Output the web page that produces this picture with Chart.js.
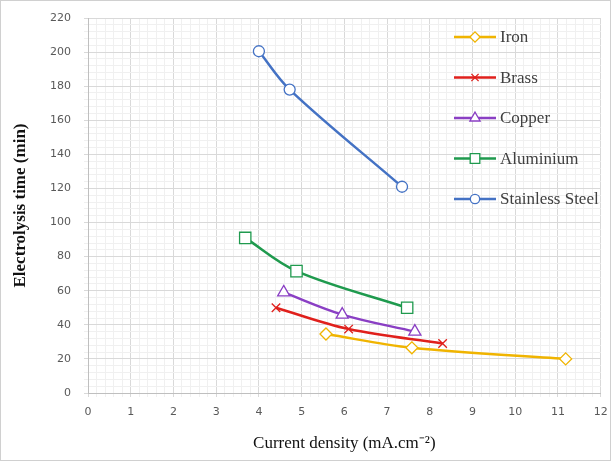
<!DOCTYPE html>
<html>
<head>
<meta charset="utf-8">
<script src="https://cdn.jsdelivr.net/npm/chart.js@4.4.1/dist/chart.umd.min.js"></script>
<style>
  body { margin: 0; background: #fff; }
  #wrap { width: 609px; height: 459px; border: 1px solid #d0d0d0; }
</style>
</head>
<body>
<div id="wrap"><canvas id="chart" width="609" height="459"></canvas></div>
<script>
// series: [current density, electrolysis time]
var ironX = [5.57, 7.58, 11.18];
var ironY = [34.6, 26.5, 20];
var brassX = [4.4, 6.1, 8.3];
var brassY = [50, 37.5, 29];
var copperX = [4.58, 5.95, 7.65];
var copperY = [59, 46, 36];
var aluminiumX = [3.68, 4.88, 7.47];
var aluminiumY = [91, 71.5, 50];
var steelX = [4.0, 4.72, 7.35];
var steelY = [200.5, 178, 121];

var seriesNames = ['Iron', 'Brass', 'Copper', 'Aluminium', 'Stainless Steel'];
var seriesColors = ['#f0b400', '#e0201c', '#8a3fc4', '#1f9a4e', '#4472c4'];
var seriesMarkers = ['rectRot', 'crossRot', 'triangle', 'rect', 'circle'];
var markerSizes = { rectRot: 6, crossRot: 6, triangle: 7, rect: 8, circle: 5.5 };

function toPoints(xs, ys) {
  return xs.map(function(x, i) { return { x: x, y: ys[i] }; });
}

var allX = [ironX, brassX, copperX, aluminiumX, steelX];
var allY = [ironY, brassY, copperY, aluminiumY, steelY];

var datasets = seriesNames.map(function(name, i) {
  return {
    label: name,
    data: toPoints(allX[i], allY[i]),
    borderColor: seriesColors[i],
    backgroundColor: '#ffffff',
    pointBorderColor: seriesColors[i],
    pointBackgroundColor: '#ffffff',
    pointStyle: seriesMarkers[i],
    pointRadius: markerSizes[seriesMarkers[i]],
    pointBorderWidth: 1.3,
    borderWidth: 2.5,
    tension: 0.35,
    fill: false
  };
});

// legend drawn inside the plot area, at the top right
var insideLegend = {
  id: 'insideLegend',
  afterDatasetsDraw: function(chart) {
    var ctx = chart.ctx;
    ctx.save();
    chart.data.datasets.forEach(function(ds, i) {
      var y = 36 + i * 40.5;
      ctx.strokeStyle = ds.borderColor;
      ctx.lineWidth = 2.5;
      ctx.beginPath();
      ctx.moveTo(453, y);
      ctx.lineTo(495, y);
      ctx.stroke();
      ctx.fillStyle = '#fff';
      ctx.lineWidth = 1.3;
      Chart.helpers.drawPoint(ctx, { pointStyle: ds.pointStyle, radius: ds.pointRadius * 0.85, borderWidth: 1.3 }, 474, y);
      ctx.fillStyle = '#404040';
      ctx.font = '17px "Liberation Serif"';
      ctx.textBaseline = 'middle';
      ctx.fillText(ds.label, 499, y + 1);
    });
    ctx.restore();
  }
};

function gridColor(major) {
  return function(c) {
    if (!c.tick) return '#e6e6e6';
    return c.tick.value % major === 0 ? '#d9d9d9' : '#f0f0f0';
  };
}

new Chart(document.getElementById('chart'), {
  type: 'line',
  data: { datasets: datasets },
  plugins: [insideLegend],
  options: {
    responsive: false,
    animation: false,
    layout: { padding: { top: 17, right: 9, left: 9, bottom: 0 } },
    plugins: {
      legend: { display: false },
      tooltip: { enabled: false }
    },
    scales: {
      x: {
        type: 'linear',
        min: 0,
        max: 12,
        ticks: {
          stepSize: 0.2,
          autoSkip: false,
          maxRotation: 0,
          color: '#595959',
          font: { family: 'DejaVu Sans', size: 11 },
          padding: 9,
          callback: function(v) {
            var r = Math.round(v);
            return Math.abs(v - r) < 1e-6 ? String(r) : '';
          }
        },
        grid: { color: gridColor(1), tickLength: 4 },
        border: { color: '#bfbfbf' },
        title: {
          display: true,
          text: 'Current density (mA.cm\u207B\u00B2)',
          color: '#111',
          font: { family: 'Liberation Serif', size: 17 },
          padding: { top: 0, bottom: 6 }
        },
        afterFit: function(s) {
          s.height = 67;
          s.paddingLeft = 0;
          s.paddingRight = 0;
        }
      },
      y: {
        min: 0,
        max: 220,
        ticks: {
          stepSize: 4,
          autoSkip: false,
          color: '#595959',
          font: { family: 'DejaVu Sans', size: 11 },
          padding: 13,
          callback: function(v) { return v % 20 === 0 ? String(v) : ''; }
        },
        grid: { color: gridColor(20), tickLength: 4 },
        border: { color: '#bfbfbf' },
        title: {
          display: true,
          text: 'Electrolysis time (min)',
          color: '#111',
          font: { family: 'Liberation Serif', size: 17, weight: 'bold' },
          padding: { top: 0, bottom: 4 }
        },
        afterFit: function(s) {
          s.width = 78;
          s.paddingTop = 0;
          s.paddingBottom = 0;
        }
      }
    }
  }
});
</script>
</body>
</html>
